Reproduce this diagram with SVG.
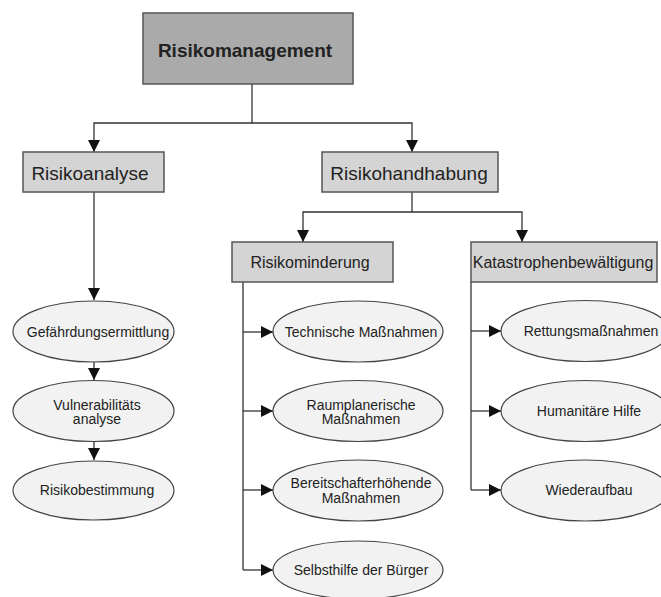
<svg xmlns="http://www.w3.org/2000/svg" width="661" height="597" viewBox="0 0 661 597">
<defs>
<style>
.top{fill:#aaaaaa;stroke:#555555;stroke-width:1.5}
.box{fill:#d4d4d4;stroke:#555555;stroke-width:1.5}
.ell{fill:#f2f2f2;stroke:#444444;stroke-width:1.2}
.t{font-family:"Liberation Sans",Arial,sans-serif;fill:#222222;text-anchor:middle}
.tb{font-size:19px;font-weight:bold}
.t1{font-size:19px}
.t2{font-size:16px}
.t3{font-size:14px}
.c{fill:none;stroke:#333333;stroke-width:1.3}
</style>
<marker id="ah" markerUnits="userSpaceOnUse" markerWidth="12" markerHeight="12" refX="12" refY="6" orient="auto">
<path d="M0,0 L12,6 L0,12 z" fill="#111111"/>
</marker>
</defs>
<rect width="661" height="597" fill="#ffffff"/>
<g id="connectors">
<path class="c" d="M252,84 V123"/>
<path class="c" d="M252,123 H94 V152" marker-end="url(#ah)"/>
<path class="c" d="M252,123 H412 V152" marker-end="url(#ah)"/>
<path class="c" d="M94,192 V300" marker-end="url(#ah)"/>
<path class="c" d="M94,362 V380" marker-end="url(#ah)"/>
<path class="c" d="M94,442 V460" marker-end="url(#ah)"/>
<path class="c" d="M412,192 V212"/>
<path class="c" d="M412,212 H303 V242" marker-end="url(#ah)"/>
<path class="c" d="M412,212 H522 V242" marker-end="url(#ah)"/>
<path class="c" d="M243,282 V570"/>
<path class="c" d="M243,332 H273" marker-end="url(#ah)"/>
<path class="c" d="M243,411 H273" marker-end="url(#ah)"/>
<path class="c" d="M243,490 H273" marker-end="url(#ah)"/>
<path class="c" d="M243,570 H273" marker-end="url(#ah)"/>
<path class="c" d="M471,282 V490"/>
<path class="c" d="M471,331 H501" marker-end="url(#ah)"/>
<path class="c" d="M471,411 H501" marker-end="url(#ah)"/>
<path class="c" d="M471,490 H501" marker-end="url(#ah)"/>
</g>
<g id="risikomanagement">
<rect class="top" x="143" y="13" width="210" height="71"/>
<text class="t tb" x="245" y="57">Risikomanagement</text>
</g>
<g id="risikoanalyse">
<rect class="box" x="23" y="152" width="141" height="40"/>
<text class="t t1" x="90" y="180">Risikoanalyse</text>
</g>
<g id="risikohandhabung">
<rect class="box" x="322" y="152" width="176" height="40"/>
<text class="t t1" x="409" y="180">Risikohandhabung</text>
</g>
<g id="risikominderung">
<rect class="box" x="232" y="242" width="161" height="40"/>
<text class="t t2" x="310" y="268">Risikominderung</text>
</g>
<g id="katastrophenbewaeltigung">
<rect class="box" x="471" y="242" width="186" height="40"/>
<text class="t t2" x="563" y="268">Katastrophenbewältigung</text>
</g>
<g id="gefaehrdungsermittlung">
<ellipse class="ell" cx="93.5" cy="331.5" rx="80.5" ry="30.5"/>
<text class="t t3" x="98" y="337">Gefährdungsermittlung</text>
</g>
<g id="vulnerabilitaetsanalyse">
<ellipse class="ell" cx="93.5" cy="411" rx="80.5" ry="30.5"/>
<text class="t t3" x="97" y="409.5">Vulnerabilitäts</text>
<text class="t t3" x="97" y="424">analyse</text>
</g>
<g id="risikobestimmung">
<ellipse class="ell" cx="93.5" cy="490.5" rx="80.5" ry="29.5"/>
<text class="t t3" x="97" y="495">Risikobestimmung</text>
</g>
<g id="technische">
<ellipse class="ell" cx="358" cy="331.5" rx="85" ry="30.5"/>
<text class="t t3" x="361" y="337">Technische Maßnahmen</text>
</g>
<g id="raumplanerische">
<ellipse class="ell" cx="358" cy="411" rx="85" ry="30.5"/>
<text class="t t3" x="361" y="409.5">Raumplanerische</text>
<text class="t t3" x="361" y="424">Maßnahmen</text>
</g>
<g id="bereitschaft">
<ellipse class="ell" cx="358" cy="490.5" rx="85" ry="30.5"/>
<text class="t t3" x="361" y="488">Bereitschafterhöhende</text>
<text class="t t3" x="361" y="502.5">Maßnahmen</text>
</g>
<g id="selbsthilfe">
<ellipse class="ell" cx="358" cy="570" rx="85" ry="29"/>
<text class="t t3" x="361" y="575">Selbsthilfe der Bürger</text>
</g>
<g id="rettung">
<ellipse class="ell" cx="585" cy="331" rx="84" ry="30.5"/>
<text class="t t3" x="591" y="336">Rettungsmaßnahmen</text>
</g>
<g id="humanitaer">
<ellipse class="ell" cx="585" cy="411" rx="84" ry="30.5"/>
<text class="t t3" x="589" y="416">Humanitäre Hilfe</text>
</g>
<g id="wiederaufbau">
<ellipse class="ell" cx="585" cy="490.5" rx="84" ry="30.5"/>
<text class="t t3" x="589" y="495">Wiederaufbau</text>
</g>
</svg>
